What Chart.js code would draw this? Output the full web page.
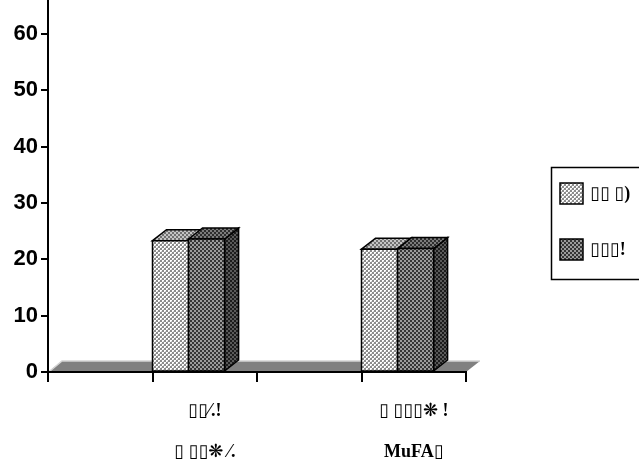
<!DOCTYPE html>
<html>
<head>
<meta charset="utf-8">
<script src="https://cdn.jsdelivr.net/npm/chart.js@4/dist/chart.umd.min.js"></script>
<style>
  html, body { margin: 0; padding: 0; background: #ffffff; }
  canvas { display: block; }
</style>
</head>
<body>
<canvas id="chart" width="639" height="463"></canvas>
<script>
// Category labels (two-line labels, empty slots between the groups)
const categories = ['', ['▯▯⁄.!', '▯ ▯▯❋ ⁄.'], '', ['▯ ▯▯▯❋ !', 'MuFA▯']];
// Series names
const seriesNames = ['▯▯ ▯)', '▯▯▯!'];
// Series values
const seriesLight = [null, 23.3, null, 21.8];
const seriesDark = [null, 23.6, null, 21.9];
// Value axis
const yTicks = [0, 10, 20, 30, 40, 50, 60];
const yMax = 66;

// 3D projection depth of the boxes and floor
const DEPTH_X = 14;
const DEPTH_Y = 11;

// Small dither tiles used as fills
const tiles = {
  lightFront: { rows: ['bbaa', 'bbac', 'aabb', 'acbb'], colors: { a: '#ffffff', b: '#8c8c8c', c: '#d0d0d0' } },
  lightTop:   { rows: ['bbaa', 'bbaa', 'aabb', 'aabb'], colors: { a: '#c4c4c4', b: '#707070' } },
  darkFront:  { rows: ['bbaa', 'bbaa', 'aabb', 'aabb'], colors: { a: '#363636', b: '#9c9c9c' } },
  darkTop:    { rows: ['bbaa', 'bbaa', 'aabb', 'aabb'], colors: { a: '#2e2e2e', b: '#7c7c7c' } },
  darkSide:   { rows: ['bbaa', 'bbaa', 'aabb', 'aabb'], colors: { a: '#1c1c1c', b: '#5a5a5a' } }
};
const patternCache = {};
function pattern(ctx, name) {
  if (patternCache[name]) return patternCache[name];
  const t = tiles[name];
  const c = document.createElement('canvas');
  c.width = t.rows[0].length;
  c.height = t.rows.length;
  const g = c.getContext('2d');
  t.rows.forEach((row, y) => {
    [...row].forEach((ch, x) => { g.fillStyle = t.colors[ch]; g.fillRect(x, y, 1, 1); });
  });
  patternCache[name] = ctx.createPattern(c, 'repeat');
  return patternCache[name];
}

const faceStyles = [
  { front: 'lightFront', top: 'lightTop', side: 'lightTop' },
  { front: 'darkFront', top: 'darkTop', side: 'darkSide' }
];

function poly(ctx, pts, fill) {
  ctx.beginPath();
  ctx.moveTo(pts[0][0], pts[0][1]);
  for (let i = 1; i < pts.length; i++) ctx.lineTo(pts[i][0], pts[i][1]);
  ctx.closePath();
  ctx.fillStyle = fill;
  ctx.fill();
  ctx.stroke();
}

const box3d = {
  id: 'box3d',
  beforeDraw(chart) {
    // Floor of the plot, drawn under the axes
    const { ctx, chartArea: a } = chart;
    ctx.save();
    ctx.beginPath();
    ctx.moveTo(a.left, a.bottom);
    ctx.lineTo(a.right, a.bottom);
    ctx.lineTo(a.right + DEPTH_X, a.bottom - DEPTH_Y);
    ctx.lineTo(a.left + DEPTH_X, a.bottom - DEPTH_Y);
    ctx.closePath();
    ctx.fillStyle = '#808080';
    ctx.fill();
    ctx.strokeStyle = '#d4d4d4';
    ctx.lineWidth = 1.5;
    ctx.beginPath();
    ctx.moveTo(a.left + 2, a.bottom - 1);
    ctx.lineTo(a.left + DEPTH_X, a.bottom - DEPTH_Y);
    ctx.lineTo(a.right + DEPTH_X, a.bottom - DEPTH_Y);
    ctx.stroke();
    ctx.restore();
  },
  beforeDatasetDraw() {
    return false;
  },
  afterDatasetsDraw(chart) {
    const { ctx } = chart;
    const xScale = chart.scales.x;
    const slotW = xScale.width / chart.data.labels.length;
    const metas = chart.data.datasets.map((d, i) => chart.getDatasetMeta(i));
    ctx.save();
    ctx.strokeStyle = '#000000';
    ctx.lineWidth = 1.5;
    ctx.lineJoin = 'miter';
    chart.data.labels.forEach((lbl, idx) => {
      const els = metas.map(m => m.data[idx]).filter((el, k) => el && chart.data.datasets[k].data[idx] != null);
      if (!els.length) return;
      const groupW = els.reduce((s, el) => s + el.width, 0);
      // boxes sit at the left edge of their slot, leaving room for the depth
      const shift = -(slotW - groupW) / 2;
      metas.forEach((m, k) => {
        const el = m.data[idx];
        if (!el || chart.data.datasets[k].data[idx] == null) return;
        const st = faceStyles[k];
        const x0 = el.x - el.width / 2 + shift;
        const x1 = el.x + el.width / 2 + shift;
        const top = el.y;
        const base = el.base;
        poly(ctx, [[x1, top], [x1 + DEPTH_X, top - DEPTH_Y], [x1 + DEPTH_X, base - DEPTH_Y], [x1, base]], pattern(ctx, st.side));
        poly(ctx, [[x0, top], [x0 + DEPTH_X, top - DEPTH_Y], [x1 + DEPTH_X, top - DEPTH_Y], [x1, top]], pattern(ctx, st.top));
        poly(ctx, [[x0, top], [x1, top], [x1, base], [x0, base]], pattern(ctx, st.front));
      });
    });
    ctx.restore();

    // Legend with framed box on the right
    const lx = 551, ly = 167;
    ctx.save();
    ctx.strokeStyle = '#000000';
    ctx.lineWidth = 1.5;
    ctx.strokeRect(lx + 0.5, ly + 0.5, 120, 112);
    const rows = [193, 249];
    chart.data.datasets.forEach((ds, k) => {
      const cy = rows[k];
      ctx.fillStyle = pattern(ctx, faceStyles[k].front);
      ctx.fillRect(lx + 9, cy - 10, 23, 21);
      ctx.strokeRect(lx + 9, cy - 10, 23, 21);
      ctx.fillStyle = '#000000';
      ctx.font = 'bold 18px "Liberation Serif", "DejaVu Sans", serif';
      ctx.textBaseline = 'middle';
      ctx.textAlign = 'left';
      ctx.fillText(ds.label, lx + 39, cy + 1);
    });
    ctx.restore();
  }
};

new Chart(document.getElementById('chart'), {
  type: 'bar',
  data: {
    labels: categories,
    datasets: [
      { label: seriesNames[0], data: seriesLight, backgroundColor: '#c8c8c8' },
      { label: seriesNames[1], data: seriesDark, backgroundColor: '#686868' }
    ]
  },
  options: {
    responsive: false,
    animation: false,
    devicePixelRatio: 1,
    categoryPercentage: 0.69,
    barPercentage: 1,
    layout: { padding: { top: 0, left: 0, bottom: 0, right: 173 } },
    plugins: {
      legend: { display: false },
      tooltip: { enabled: false }
    },
    scales: {
      x: {
        offset: true,
        grid: { offset: true, drawOnChartArea: false, drawTicks: true, tickLength: 10, color: '#000000', lineWidth: 2 },
        border: { display: true, color: '#000000', width: 2 },
        ticks: {
          autoSkip: false,
          maxRotation: 0,
          minRotation: 0,
          padding: 8.5,
          color: '#000000',
          font: { family: '"Liberation Serif", "DejaVu Sans", serif', size: 18, weight: 'bold', lineHeight: 41 / 18 }
        },
        afterFit(scale) {
          scale.height = 91;
          scale.paddingLeft = 0;
          scale.paddingRight = 0;
        }
      },
      y: {
        min: 0,
        max: yMax,
        grid: { drawOnChartArea: false, drawTicks: true, tickLength: 7, color: '#000000', lineWidth: 2 },
        border: { display: true, color: '#000000', width: 2 },
        ticks: {
          padding: 3,
          color: '#000000',
          font: { family: '"Liberation Sans", Arial, sans-serif', size: 22, weight: 'bold' }
        },
        afterBuildTicks(scale) {
          scale.ticks = yTicks.map(v => ({ value: v }));
        },
        afterFit(scale) {
          scale.width = 48;
          scale.paddingTop = 0;
          scale.paddingBottom = 0;
        }
      }
    }
  },
  plugins: [box3d]
});
</script>
</body>
</html>
